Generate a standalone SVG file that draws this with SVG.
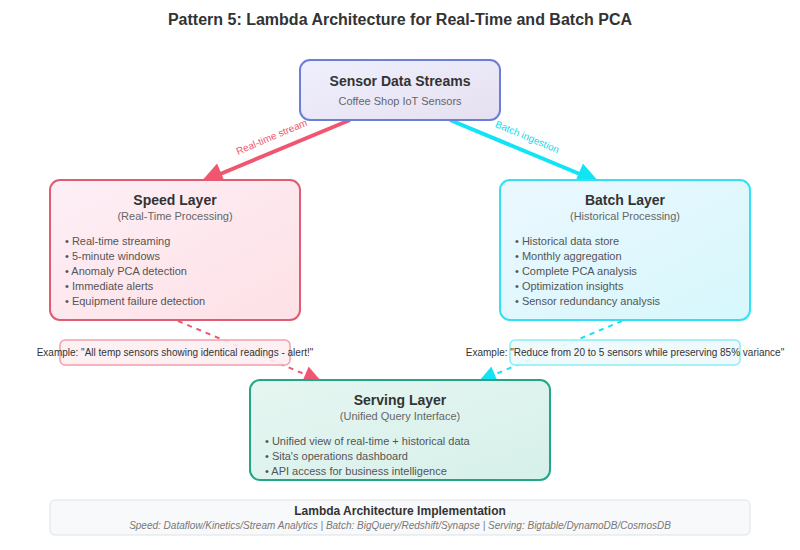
<svg xmlns="http://www.w3.org/2000/svg" width="800" height="550" viewBox="0 0 800 550">
<defs>
<linearGradient id="gSensor" x1="0" y1="0" x2="1" y2="1"><stop offset="0" stop-color="#eff0fd"/><stop offset="1" stop-color="#e6e0f1"/></linearGradient>
<linearGradient id="gSpeed" x1="0" y1="0" x2="1" y2="1"><stop offset="0" stop-color="#fdeff6"/><stop offset="1" stop-color="#fde1e6"/></linearGradient>
<linearGradient id="gBatch" x1="0" y1="0" x2="1" y2="1"><stop offset="0" stop-color="#ebf7fe"/><stop offset="1" stop-color="#d6f8fc"/></linearGradient>
<linearGradient id="gServ" x1="0" y1="0" x2="1" y2="1"><stop offset="0" stop-color="#e6f6f1"/><stop offset="1" stop-color="#d7f0ea"/></linearGradient>
<marker id="aRed" viewBox="0 0 10 10" refX="10" refY="5" markerWidth="24" markerHeight="22" markerUnits="userSpaceOnUse" orient="auto"><path d="M0,0 L10,5 L0,10 z" fill="#f0566f"/></marker>
<marker id="aCyan" viewBox="0 0 10 10" refX="10" refY="5" markerWidth="24" markerHeight="22" markerUnits="userSpaceOnUse" orient="auto"><path d="M0,0 L10,5 L0,10 z" fill="#12e4f5"/></marker>
<marker id="aRedS" viewBox="0 0 10 10" refX="10" refY="5" markerWidth="19" markerHeight="17" markerUnits="userSpaceOnUse" orient="auto"><path d="M0,0 L10,5 L0,10 z" fill="#f0566f"/></marker>
<marker id="aCyanS" viewBox="0 0 10 10" refX="10" refY="5" markerWidth="19" markerHeight="17" markerUnits="userSpaceOnUse" orient="auto"><path d="M0,0 L10,5 L0,10 z" fill="#12e4f5"/></marker>
</defs>
<style>
text{font-family:"Liberation Sans",Arial,sans-serif}
.ttl{font-size:16px;font-weight:bold;fill:#333;text-anchor:middle}
.h{font-size:14px;font-weight:bold;fill:#333;text-anchor:middle}
.sub{font-size:11px;fill:#666;text-anchor:middle}
.b{font-size:11px;fill:#555}
.ex{font-size:10px;fill:#333;text-anchor:middle}
.box{stroke-width:2}
</style>
<rect width="800" height="550" fill="#ffffff"/>
<text class="ttl" x="400" y="25">Pattern 5: Lambda Architecture for Real-Time and Batch PCA</text>

<g id="connectors">
<line x1="350" y1="120" x2="201" y2="182" stroke="#f0566f" stroke-width="4" marker-end="url(#aRed)"/>
<text x="273" y="140" font-size="10" fill="#f0566f" text-anchor="middle" transform="rotate(-23 273 140)">Real-time stream</text>
<line x1="450" y1="120" x2="599" y2="182" stroke="#12e4f5" stroke-width="4" marker-end="url(#aCyan)"/>
<text x="526" y="140" font-size="10" fill="#12d8ea" text-anchor="middle" transform="rotate(23 526 140)">Batch ingestion</text>
<line x1="178" y1="321" x2="321" y2="381" stroke="#f0566f" stroke-width="2" stroke-dasharray="5,5" marker-end="url(#aRedS)"/>
<line x1="622" y1="321" x2="479" y2="381" stroke="#12e4f5" stroke-width="2" stroke-dasharray="5,5" marker-end="url(#aCyanS)"/>
<g id="label-speed">
<rect x="60" y="340" width="230" height="25" rx="5" fill="#fdeef1" fill-opacity="0.9" stroke="#f0a0ae" stroke-width="1.5"/>
<text class="ex" x="175" y="356">Example: "All temp sensors showing identical readings - alert!"</text>
</g>
<g id="label-batch">
<rect x="510" y="340" width="230" height="25" rx="5" fill="#eef9fd" fill-opacity="0.9" stroke="#88eef8" stroke-width="1.5"/>
<text class="ex" x="625" y="356">Example: "Reduce from 20 to 5 sensors while preserving 85% variance"</text>
</g>
</g>

<g id="sensor">
<rect class="box" x="300" y="60" width="200" height="60" rx="10" fill="url(#gSensor)" stroke="#6b7fd6"/>
<text class="h" x="400" y="86">Sensor Data Streams</text>
<text class="sub" x="400" y="105">Coffee Shop IoT Sensors</text>
</g>

<g id="speed">
<rect class="box" x="50" y="180" width="250" height="140" rx="10" fill="url(#gSpeed)" stroke="#e05c72"/>
<text class="h" x="175" y="205">Speed Layer</text>
<text class="sub" x="175" y="220">(Real-Time Processing)</text>
<text class="b" x="65" y="245">• Real-time streaming</text>
<text class="b" x="65" y="260">• 5-minute windows</text>
<text class="b" x="65" y="275">• Anomaly PCA detection</text>
<text class="b" x="65" y="290">• Immediate alerts</text>
<text class="b" x="65" y="305">• Equipment failure detection</text>
</g>

<g id="batch">
<rect class="box" x="500" y="180" width="250" height="140" rx="10" fill="url(#gBatch)" stroke="#33e1f4"/>
<text class="h" x="625" y="205">Batch Layer</text>
<text class="sub" x="625" y="220">(Historical Processing)</text>
<text class="b" x="515" y="245">• Historical data store</text>
<text class="b" x="515" y="260">• Monthly aggregation</text>
<text class="b" x="515" y="275">• Complete PCA analysis</text>
<text class="b" x="515" y="290">• Optimization insights</text>
<text class="b" x="515" y="305">• Sensor redundancy analysis</text>
</g>

<g id="serving">
<rect class="box" x="250" y="380" width="300" height="100" rx="10" fill="url(#gServ)" stroke="#22a68a"/>
<text class="h" x="400" y="405">Serving Layer</text>
<text class="sub" x="400" y="420">(Unified Query Interface)</text>
<text class="b" x="265" y="445">• Unified view of real-time + historical data</text>
<text class="b" x="265" y="460">• Sita's operations dashboard</text>
<text class="b" x="265" y="475">• API access for business intelligence</text>
</g>

<g id="footer">
<rect x="50" y="500" width="700" height="35" rx="5" fill="#f8f9fa" stroke="#dee2e6" stroke-width="1"/>
<text x="400" y="515" font-size="12" font-weight="bold" fill="#333" text-anchor="middle">Lambda Architecture Implementation</text>
<text x="400" y="529" font-size="10" font-style="italic" fill="#777" text-anchor="middle">Speed: Dataflow/Kinetics/Stream Analytics | Batch: BigQuery/Redshift/Synapse | Serving: Bigtable/DynamoDB/CosmosDB</text>
</g>
</svg>
